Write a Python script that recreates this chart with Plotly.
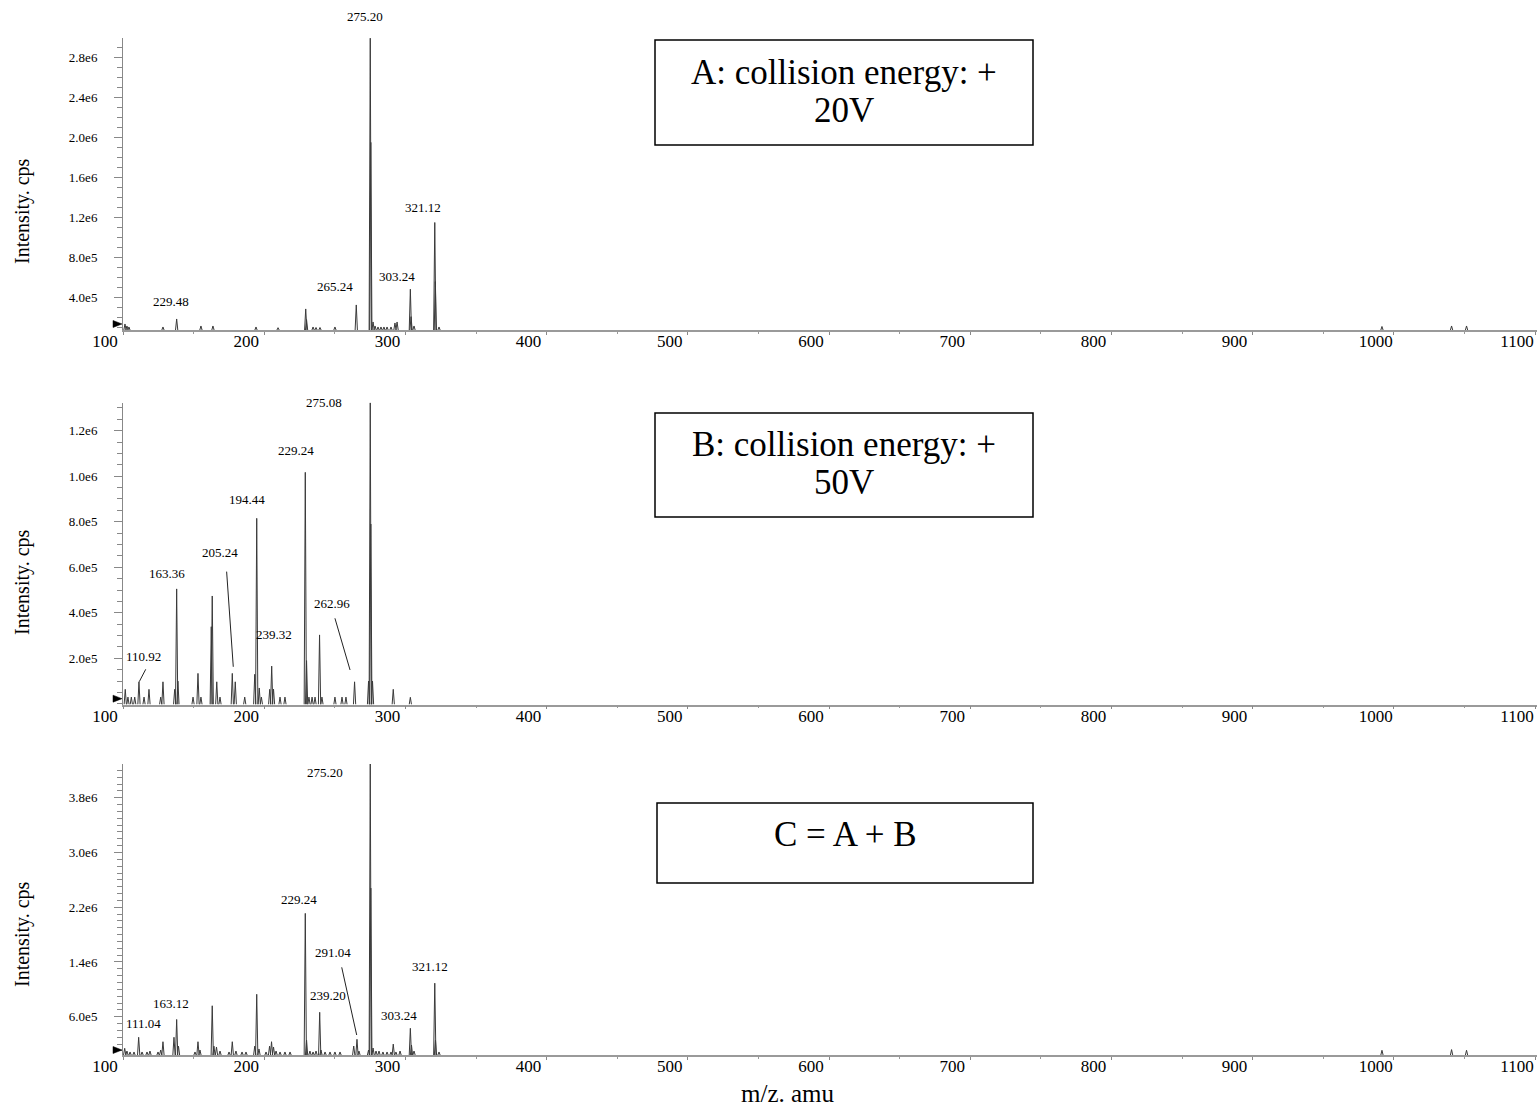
import plotly.graph_objects as go

# ---------------- data ----------------
# Panel A: collision energy +20V  (m/z, intensity cps)
a_mz = [101.4, 102.8, 104.2, 128.3, 138.0, 155.2, 163.7, 194.2, 209.8, 229.4, 230.0,
        234.6, 236.7, 239.5, 250.1, 265.2, 275.1, 275.5, 277.1, 278.5, 280.6, 282.7,
        284.8, 287.0, 289.8, 292.6, 294.1, 303.5, 304.0, 306.1, 320.8, 321.2, 323.8,
        991.6, 1040.9, 1051.5]
a_int = [1.37e5, 1.17e5, 1.07e5, 1.07e5, 1.87e5, 1.17e5, 1.17e5, 1.07e5, 1.00e5, 2.87e5, 1.80e5,
         1.07e5, 1.02e5, 1.02e5, 1.07e5, 3.27e5, 2.99e6, 1.95e6, 1.57e5, 1.17e5, 1.07e5, 1.07e5,
         1.07e5, 1.07e5, 1.07e5, 1.47e5, 1.57e5, 4.84e5, 2.10e5, 1.17e5, 1.15e6, 5.60e5, 1.07e5,
         1.12e5, 1.17e5, 1.17e5]

# Panel B: collision energy +50V
b_mz = [101.6, 103.5, 105.9, 108.3, 111.3, 114.9, 118.4, 126.7, 128.3, 136.6, 138.0, 138.9,
        149.6, 153.1, 155.2, 162.5, 163.2, 166.4, 168.7, 177.4, 179.5, 186.2, 193.3, 194.7,
        196.5, 198.0, 203.9, 205.3, 206.6, 211.2, 214.7, 229.1, 230.0, 231.7, 233.9, 236.0,
        239.2, 240.9, 250.1, 255.1, 257.9, 264.0, 273.9, 275.1, 275.5, 276.7, 291.4, 303.5]
b_int = [6.4e4, 3.0e4, 3.0e4, 3.0e4, 9.7e4, 3.0e4, 6.4e4, 3.0e4, 9.7e4, 6.4e4, 5.05e5, 1.0e5,
         3.0e4, 1.34e5, 3.0e4, 3.39e5, 4.74e5, 9.7e4, 3.0e4, 1.34e5, 9.7e4, 3.0e4, 1.30e5, 8.15e5,
         7.0e4, 3.0e4, 6.4e4, 1.66e5, 6.5e4, 3.0e4, 3.0e4, 1.017e6, 1.9e5, 3.0e4, 3.0e4, 3.0e4,
         3.03e5, 3.0e4, 3.0e4, 3.0e4, 3.0e4, 9.7e4, 1.0e5, 1.323e6, 7.9e5, 1.0e5, 6.4e4, 2.9e4]

# Panel C: C = A + B
c_mz = [101.2, 102.8, 105.0, 107.8, 111.1, 113.5, 117.0, 119.1, 124.8, 126.7, 128.3, 136.1,
        138.0, 139.3, 151.0, 153.1, 154.5, 163.2, 164.4, 166.2, 168.7, 175.1, 177.4, 180.0,
        184.3, 187.1, 193.3, 194.7, 196.3, 201.3, 203.8, 205.2, 206.6, 208.4, 211.2, 214.7,
        218.3, 229.1, 230.0, 232.4, 234.6, 236.7, 239.3, 240.2, 243.1, 246.6, 250.1, 253.7,
        263.4, 265.7, 267.1, 273.9, 275.1, 275.5, 277.1, 279.2, 281.3, 284.1, 287.0, 289.8,
        291.4, 293.3, 296.2, 303.5, 304.3, 306.1, 320.8, 321.3, 323.8, 991.6, 1040.9, 1051.5]
c_int = [1.39e5, 9.9e4, 8.5e4, 8.5e4, 3.0e5, 8.5e4, 8.5e4, 9.9e4, 8.5e4, 1.14e5, 2.35e5, 3.0e5,
         5.6e5, 1.7e5, 8.5e4, 2.35e5, 1.14e5, 7.6e5, 1.7e5, 1.58e5, 9.9e4, 8.5e4, 2.35e5, 9.9e4,
         8.5e4, 8.5e4, 1.7e5, 9.28e5, 1.29e5, 8.5e4, 1.7e5, 2.35e5, 1.58e5, 9.9e4, 8.5e4, 8.5e4,
         8.5e4, 2.11e6, 2.6e5, 9.9e4, 8.5e4, 9.9e4, 6.65e5, 1.14e5, 8.5e4, 8.5e4, 8.5e4, 8.5e4,
         1.72e5, 2.7e5, 9.9e4, 1.14e5, 4.293e6, 2.48e6, 1.43e5, 9.9e4, 9.9e4, 8.5e4, 8.5e4, 8.5e4,
         2.0e5, 8.5e4, 9.9e4, 4.31e5, 1.87e5, 9.9e4, 1.09e6, 2.6e5, 8.5e4, 1.1e5, 1.2e5, 1.1e5]

# peak labels (text, m/z, intensity where the label sits)
a_labels = [("275.20", 271.4, 3.21e6), ("229.48", 134.0, 3.57e5), ("265.24", 250.1, 5.07e5),
            ("303.24", 294.1, 6.07e5), ("321.12", 312.5, 1.297e6)]
b_labels = [("275.08", 242.4, 1.323e6), ("229.24", 222.5, 1.115e6), ("194.44", 187.8, 8.99e5),
            ("205.24", 168.7, 6.64e5), ("163.36", 131.2, 5.71e5), ("262.96", 248.0, 4.39e5),
            ("239.32", 206.9, 3.03e5), ("110.92", 114.2, 2.10e5)]
c_labels = [("275.20", 243.1, 4.166e6), ("229.24", 224.6, 2.306e6), ("291.04", 248.7, 1.541e6),
            ("321.12", 317.4, 1.341e6), ("239.20", 245.2, 9.07e5), ("163.12", 134.0, 7.96e5),
            ("111.04", 114.2, 5.04e5), ("303.24", 295.5, 6.25e5)]
# leader lines (m/z0, int0, m/z1, int1)
b_leaders = [(116.1, 1.52e5, 111.5, 9.75e4), (173.4, 5.81e5, 178.1, 1.63e5), (250.1, 3.76e5, 260.8, 1.49e5)]
c_leaders = [(254.9, 1.322e6, 265.5, 3.33e5)]

x_ticks = [100, 200, 300, 400, 500, 600, 700, 800, 900, 1000, 1100]
a_yticks = [4e5, 8e5, 1.2e6, 1.6e6, 2.0e6, 2.4e6, 2.8e6]
a_yticktext = ["4.0e5", "8.0e5", "1.2e6", "1.6e6", "2.0e6", "2.4e6", "2.8e6"]
b_yticks = [2e5, 4e5, 6e5, 8e5, 1.0e6, 1.2e6]
b_yticktext = ["2.0e5", "4.0e5", "6.0e5", "8.0e5", "1.0e6", "1.2e6"]
c_yticks = [6e5, 1.4e6, 2.2e6, 3.0e6, 3.8e6]
c_yticktext = ["6.0e5", "1.4e6", "2.2e6", "3.0e6", "3.8e6"]

box_lines = [["A: collision energy: +", "20V"], ["B: collision energy: +", "50V"], ["C = A + B"]]

# ---------------- layout constants ----------------
W, H = 1539, 1106
FONT = "Liberation Serif"
x_left, x_right = 123, 1537
x_range = [100, 1101.4]
panels = [
    dict(mz=a_mz, it=a_int, labels=a_labels, leaders=[], yt=a_yticks, ytt=a_yticktext,
         top=38, bottom=330, yr=[7.69e4, 2.992e6], minor=1e5, tri=1.37e5, title_y=211),
    dict(mz=b_mz, it=b_int, labels=b_labels, leaders=b_leaders, yt=b_yticks, ytt=b_yticktext,
         top=402.7, bottom=704.5, yr=[-2.6e3, 1.3228e6], minor=5e4, tri=2.3e4, title_y=582),
    dict(mz=c_mz, it=c_int, labels=c_labels, leaders=c_leaders, yt=c_yticks, ytt=c_yticktext,
         top=764, bottom=1055, yr=[4.09e4, 4.2928e6], minor=1e5, tri=1.14e5, title_y=934),
]
# box: x0, y0, x1, y1, line centres (px)
boxes = [(655, 40, 1033, 145, [72, 110]), (655, 413, 1033, 517, [444, 482]),
         (657, 803, 1033, 883, [834])]

fig = go.Figure()
layout = dict(width=W, height=H, margin=dict(l=0, r=0, t=0, b=0, pad=0, autoexpand=False),
              paper_bgcolor="white", plot_bgcolor="white", showlegend=False,
              font=dict(family=FONT, color="black"))
annotations = []
shapes = []
half_w = 0.8

for i, p in enumerate(panels):
    n = "" if i == 0 else str(i + 1)
    xa, ya = "x" + n, "y" + n
    base = p["yr"][0]
    r0, r1 = p["yr"]
    xs, ys = [], []
    for m, h in zip(p["mz"], p["it"]):
        xs += [m - half_w, m, m + half_w, None]
        ys += [base, h, base, None]
    fig.add_trace(go.Scatter(x=xs, y=ys, mode="lines", xaxis=xa, yaxis=ya,
                             line=dict(color="#3a3a3a", width=1), hoverinfo="skip",
                             cliponaxis=False))
    # threshold marker (small right-pointing triangle left of the y axis)
    shapes.append(dict(type="path", xref="paper", yref=ya, xsizemode="pixel", ysizemode="pixel",
                       xanchor=x_left / W, yanchor=p["tri"],
                       path="M -10 -3.5 L -1 0 L -10 3.5 Z", fillcolor="black",
                       line=dict(color="black", width=0.5)))
    ydom = [1 - p["bottom"] / H, 1 - p["top"] / H]
    layout["xaxis" + n] = dict(domain=[x_left / W, x_right / W], range=x_range, anchor=ya,
                               automargin=False,
                               tickmode="array", tickvals=x_ticks, ticks="outside", ticklen=3,
                               tickcolor="#888", showline=True, linecolor="#9a9a9a", linewidth=1.5,
                               showgrid=False, zeroline=False, ticklabelshift=-18,
                               ticklabelstandoff=-8,
                               tickfont=dict(family=FONT, size=17, color="black"),
                               minor=dict(tickmode="linear", tick0=50, dtick=100, ticks="outside",
                                          ticklen=2, tickcolor="#999"))
    layout["yaxis" + n] = dict(domain=ydom, range=p["yr"], anchor=xa, tickmode="array",
                               automargin=False,
                               tickvals=p["yt"], ticktext=p["ytt"], ticks="outside", ticklen=8,
                               tickcolor="#888", showline=True, linecolor="#888", linewidth=1,
                               showgrid=False, zeroline=False, ticklabelstandoff=14,
                               tickfont=dict(family=FONT, size=13, color="black"),
                               minor=dict(tickmode="linear", tick0=0, dtick=p["minor"],
                                          ticks="outside", ticklen=5, tickcolor="#888"))
    for txt, xm, yv in p["labels"]:
        annotations.append(dict(text=txt, x=xm, y=(yv - r0) / (r1 - r0), xref=xa,
                                yref=ya + " domain", showarrow=False,
                                xanchor="center", yanchor="middle",
                                font=dict(family=FONT, size=13, color="black")))
    for x0, y0, x1, y1 in p["leaders"]:
        shapes.append(dict(type="line", x0=x0, y0=y0, x1=x1, y1=y1, xref=xa, yref=ya,
                           line=dict(color="#222", width=1)))
    # y-axis title
    annotations.append(dict(text="Intensity. cps", x=22 / W, y=1 - p["title_y"] / H,
                            xref="paper", yref="paper", showarrow=False, textangle=-90,
                            xanchor="center", yanchor="middle",
                            font=dict(family=FONT, size=20, color="black")))
    # box with text
    bx0, by0, bx1, by1, lines = boxes[i]
    shapes.append(dict(type="rect", xref="paper", yref="paper", x0=bx0 / W, x1=bx1 / W,
                       y0=1 - by1 / H, y1=1 - by0 / H, line=dict(color="black", width=1.5),
                       fillcolor="rgba(0,0,0,0)"))
    for txt, yc in zip(box_lines[i], lines):
        annotations.append(dict(text=txt, x=(bx0 + bx1) / 2 / W, y=1 - yc / H,
                                xref="paper", yref="paper", showarrow=False,
                                xanchor="center", yanchor="middle",
                                font=dict(family=FONT, size=35, color="black")))

annotations.append(dict(text="m/z. amu", x=788 / W, y=1 - 1093 / H, xref="paper", yref="paper",
                        showarrow=False, xanchor="center", yanchor="middle",
                        font=dict(family=FONT, size=25, color="black")))
layout["annotations"] = annotations
layout["shapes"] = shapes
fig.update_layout(**layout)
fig.write_html("out.html")
